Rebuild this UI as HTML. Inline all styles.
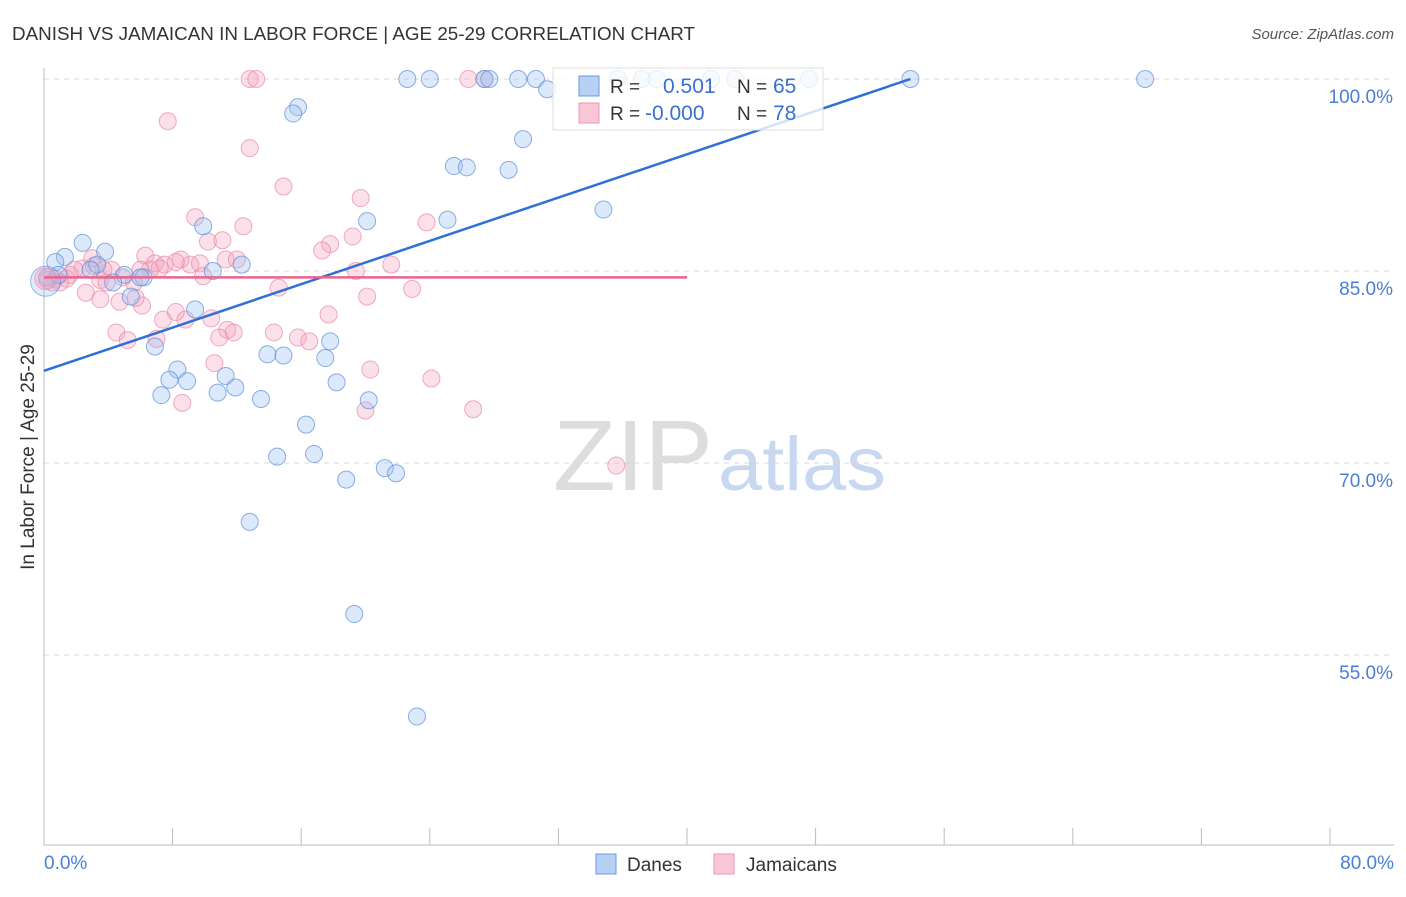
<!DOCTYPE html>
<html><head><meta charset="utf-8"><style>
body{margin:0;background:#fff;font-family:"Liberation Sans",sans-serif;}
svg text{font-family:"Liberation Sans",sans-serif;}
</style></head><body>
<svg id="c" width="1406" height="892">
<text x="12" y="40" font-size="18" fill="#333" textLength="683" lengthAdjust="spacingAndGlyphs">DANISH VS JAMAICAN IN LABOR FORCE | AGE 25-29 CORRELATION CHART</text>
<text x="1394" y="39" font-size="15" fill="#555" text-anchor="end" font-style="italic">Source: ZipAtlas.com</text>
<g><text x="553" y="490" font-size="100" fill="#ddd" font-family="Liberation Serif" textLength="160" lengthAdjust="spacingAndGlyphs">ZIP</text><text x="718" y="490" font-size="76" fill="#c8d8f0" textLength="168" lengthAdjust="spacingAndGlyphs">atlas</text></g>
<g id="grid"></g><g id="marks"></g>
<text transform="translate(34,457) rotate(-90)" font-size="19" fill="#333" text-anchor="middle">In Labor Force | Age 25-29</text>
<text x="44" y="869" font-size="19" fill="#4a7fd8">0.0%</text>
<text x="1394" y="869" font-size="19" fill="#4a7fd8" text-anchor="end">80.0%</text>
<g>
<rect x="553" y="68" width="270" height="62" fill="#fff" fill-opacity="0.8" stroke="#ddd"/>
<rect x="579" y="76" width="20" height="20" fill="#b8d0f4" stroke="#6a9ae0"/>
<rect x="579" y="103" width="20" height="20" fill="#f9c6d6" stroke="#ec9ab4"/>
<text x="610" y="93" font-size="19" fill="#333">R =</text><text x="663" y="93" font-size="21" fill="#3a70d0">0.501</text>
<text x="737" y="93" font-size="19" fill="#333">N =</text><text x="773" y="93" font-size="21" fill="#3a70d0">65</text>
<text x="610" y="120" font-size="19" fill="#333">R =</text><text x="645" y="120" font-size="21" fill="#3a70d0">-0.000</text>
<text x="737" y="120" font-size="19" fill="#333">N =</text><text x="773" y="120" font-size="21" fill="#3a70d0">78</text>
</g>
<g>
<rect x="596" y="854" width="20" height="20" fill="#b8d0f4" stroke="#6a9ae0"/>
<text x="627" y="871" font-size="19" fill="#333">Danes</text>
<rect x="714" y="854" width="20" height="20" fill="#f9c6d6" stroke="#ec9ab4"/>
<text x="746" y="871" font-size="19" fill="#333">Jamaicans</text>
</g>
</svg>
<script>
const yTicks=[100,85,70,55];
const xTicks=[0,8,16,24,32,40,48,56,64,72,80];
const daneX=[22.6,24.0,27.4,27.7,29.5,30.6,31.3,35.7,37.2,38.1,41.5,43.0,47.6,53.9,68.5,15.8,15.5,29.8,25.5,26.3,28.9,34.8,25.1,20.1,9.9,2.4,3.8,1.3,0.7,3.3,12.3,10.5,2.9,5.0,6.2,4.3,0.2,5.4,9.4,6.9,17.8,13.9,14.9,17.5,8.3,7.8,8.9,11.3,18.2,11.9,10.8,7.3,13.5,20.2,16.3,14.5,16.8,21.2,21.9,18.8,12.8,19.3,23.2,6.0,0.9];
const daneY=[100,100,100,100,100,100,99.2,100,100,100,100,100,100,100,100,97.8,97.3,95.3,93.2,93.1,92.9,89.8,89.0,88.9,88.5,87.2,86.5,86.1,85.7,85.5,85.5,85.0,85.1,84.7,84.5,84.1,84.5,83.0,82.0,79.1,79.5,78.5,78.4,78.2,77.3,76.5,76.4,76.8,76.3,75.9,75.5,75.3,75.0,74.9,73.0,70.5,70.7,69.6,69.2,68.7,65.4,58.2,50.2,84.5,84.7];
const jamX=[12.8,13.2,26.4,27.4,7.7,12.8,14.9,19.7,9.4,12.4,23.8,10.2,11.1,19.2,17.8,17.3,6.3,8.5,6.9,7.5,9.1,11.3,12.0,9.7,21.6,19.4,9.9,4.2,2.4,3.0,1.6,0.7,1.0,3.5,3.9,4.9,6.6,5.6,22.9,14.6,20.1,2.6,3.5,4.7,6.1,17.7,7.4,8.2,8.8,10.4,11.4,11.8,10.9,14.3,15.8,16.5,4.5,5.2,7.0,10.6,20.3,24.1,8.6,20.0,26.7,35.6,5.7,0.2,0.5,1.4,1.9,3.1,6.0,7.2,8.2,3.7];
const jamY=[100,100,100,100,96.7,94.6,91.6,90.7,89.2,88.5,88.8,87.3,87.4,87.7,87.1,86.6,86.2,85.9,85.6,85.5,85.5,85.9,85.9,85.6,85.5,85.0,84.6,85.1,85.2,86.0,84.7,84.4,84.1,84.3,84.1,84.5,85.1,84.1,83.6,83.7,83.0,83.3,82.8,82.6,82.3,81.6,81.2,81.8,81.2,81.3,80.4,80.2,79.8,80.2,79.8,79.5,80.2,79.6,79.7,77.8,77.3,76.6,74.7,74.1,74.2,69.8,82.9,84.3,84.1,84.4,85.1,85.4,85.1,85.2,85.7,85.1];
const daneTrend=[[0,77.2],[53.9,100]];
const jamTrend=[[0,84.5],[40,84.5]];
const X=v=>44+v*16.075, Y=v=>79+(100-v)*12.8;
const NS='http://www.w3.org/2000/svg';
const grid=document.getElementById('grid'), marks=document.getElementById('marks');
function mk(tag,attrs,parent){const e=document.createElementNS(NS,tag);for(const k in attrs)e.setAttribute(k,attrs[k]);parent.appendChild(e);return e;}
yTicks.forEach(t=>{
 const l=mk('line',{x1:44,x2:1394,y1:Y(t),y2:Y(t),stroke:'#d8d8d8','stroke-dasharray':'5,5'},grid);
 
 
 const tx=mk('text',{x:1393,y:Y(t)+24,'font-size':19,fill:'#4a7fd8','text-anchor':'end'},grid);
 tx.textContent=t.toFixed(1)+'%';
 
 
});
xTicks.forEach(t=>{
 const l=mk('line',{x1:X(t),x2:X(t),y1:828,y2:845,stroke:'#bbb'},grid);
 
 
});
const ax=mk('path',{d:'M44,68 V845 H1394',fill:'none',stroke:'#bbb'},grid);


function pts(xs,ys,fill,stroke,name){xs.forEach((x,i)=>{
 const c=mk('circle',{cx:X(x),cy:Y(ys[i]),r:8.5,fill:fill,'fill-opacity':0.35,stroke:stroke,'stroke-opacity':0.7,'stroke-width':1},marks);
 
 
});}
pts(jamX,jamY,'#f4a6bf','#e889a8','jamaican-point');
pts(daneX,daneY,'#9cc0f0','#5b8fdc','dane-point');
const big1=mk('circle',{cx:X(0.1),cy:Y(84.2),r:15,fill:'#9cc0f0','fill-opacity':0.3,stroke:'#5b8fdc','stroke-opacity':0.6},marks);


const big2=mk('circle',{cx:X(0.1),cy:Y(84.4),r:11,fill:'#f4a6bf','fill-opacity':0.4,stroke:'#e889a8','stroke-opacity':0.6},marks);


const t1=mk('line',{x1:X(daneTrend[0][0]),y1:Y(daneTrend[0][1]),x2:X(daneTrend[1][0]),y2:Y(daneTrend[1][1]),stroke:'#2f6fd6','stroke-width':2.5},marks);


const t2=mk('line',{x1:X(jamTrend[0][0]),y1:Y(jamTrend[0][1]),x2:X(jamTrend[1][0]),y2:Y(jamTrend[1][1]),stroke:'#e8648e','stroke-width':2.5},marks);


</script>
</body></html>
